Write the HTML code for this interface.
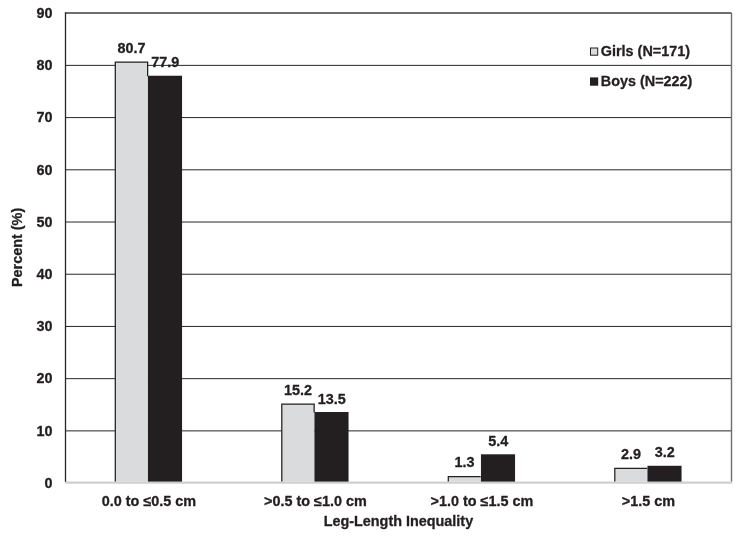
<!DOCTYPE html>
<html><head><meta charset="utf-8"><title>Leg-Length Inequality</title>
<style>
html,body{margin:0;padding:0;background:#fff;}
svg{display:block;will-change:transform;opacity:0.999;}
text{font-family:"Liberation Sans",sans-serif;font-weight:bold;font-size:14.4px;fill:#231f20;stroke:#231f20;stroke-width:0.3px;stroke-linejoin:round;}
</style></head><body>
<svg width="742" height="536" viewBox="0 0 742 536">
<rect width="742" height="536" fill="#fff"/>
<line x1="65.5" y1="430.88" x2="731.5" y2="430.88" stroke="#2a2627" stroke-width="1.0"/>
<line x1="65.5" y1="378.67" x2="731.5" y2="378.67" stroke="#2a2627" stroke-width="1.0"/>
<line x1="65.5" y1="326.45" x2="731.5" y2="326.45" stroke="#2a2627" stroke-width="1.0"/>
<line x1="65.5" y1="274.24" x2="731.5" y2="274.24" stroke="#2a2627" stroke-width="1.0"/>
<line x1="65.5" y1="222.02" x2="731.5" y2="222.02" stroke="#2a2627" stroke-width="1.0"/>
<line x1="65.5" y1="169.81" x2="731.5" y2="169.81" stroke="#2a2627" stroke-width="1.0"/>
<line x1="65.5" y1="117.59" x2="731.5" y2="117.59" stroke="#2a2627" stroke-width="1.0"/>
<line x1="65.5" y1="65.38" x2="731.5" y2="65.38" stroke="#2a2627" stroke-width="1.0"/>
<line x1="65.5" y1="13.06" x2="731.5" y2="13.06" stroke="#403c3d" stroke-width="1.4"/>
<line x1="731.5" y1="13.06" x2="731.5" y2="481.7" stroke="#6c6c6c" stroke-width="1.4"/>
<line x1="64.9" y1="482.7" x2="732.2" y2="482.7" stroke="#cfcfcf" stroke-width="2.2"/>
<line x1="65.5" y1="12.360000000000001" x2="65.5" y2="481.7" stroke="#2a2627" stroke-width="1.3"/>
<rect x="115.30" y="62.02" width="32.65" height="419.58" fill="#dadbdc"/>
<polyline points="115.30,481.60 115.30,62.02 147.65,62.02 147.65,76.24" fill="none" stroke="#231f20" stroke-width="1.25"/>
<rect x="147.95" y="75.74" width="34.10" height="405.86" fill="#231f20"/>
<text x="131.43" y="52.82" text-anchor="middle">80.7</text>
<text x="165.20" y="67.44" text-anchor="middle">77.9</text>
<text x="148.95" y="505.5" text-anchor="middle">0.0 to ≤0.5 cm</text>
<rect x="281.80" y="404.03" width="32.65" height="77.57" fill="#dadbdc"/>
<polyline points="281.80,481.60 281.80,404.03 314.15,404.03 314.15,412.51" fill="none" stroke="#231f20" stroke-width="1.25"/>
<rect x="314.45" y="412.01" width="34.10" height="69.59" fill="#231f20"/>
<text x="297.93" y="394.83" text-anchor="middle">15.2</text>
<text x="331.70" y="403.71" text-anchor="middle">13.5</text>
<text x="315.45" y="505.5" text-anchor="middle">&gt;0.5 to ≤1.0 cm</text>
<rect x="448.30" y="476.61" width="32.65" height="4.99" fill="#dadbdc"/>
<polyline points="448.30,481.60 448.30,476.61 480.65,476.61 480.65,476.61" fill="none" stroke="#231f20" stroke-width="1.25"/>
<rect x="480.95" y="454.30" width="34.10" height="27.30" fill="#231f20"/>
<text x="464.43" y="467.41" text-anchor="middle">1.3</text>
<text x="498.20" y="446.00" text-anchor="middle">5.4</text>
<text x="481.95" y="505.5" text-anchor="middle">&gt;1.0 to ≤1.5 cm</text>
<rect x="614.80" y="468.26" width="32.65" height="13.34" fill="#dadbdc"/>
<polyline points="614.80,481.60 614.80,468.26 647.15,468.26 647.15,468.26" fill="none" stroke="#231f20" stroke-width="1.25"/>
<rect x="647.45" y="465.79" width="34.10" height="15.81" fill="#231f20"/>
<text x="630.92" y="459.06" text-anchor="middle">2.9</text>
<text x="664.70" y="457.49" text-anchor="middle">3.2</text>
<text x="648.45" y="505.5" text-anchor="middle">&gt;1.5 cm</text>
<text x="52.6" y="487.90" text-anchor="end">0</text>
<text x="52.6" y="435.68" text-anchor="end">10</text>
<text x="52.6" y="383.47" text-anchor="end">20</text>
<text x="52.6" y="331.25" text-anchor="end">30</text>
<text x="52.6" y="279.04" text-anchor="end">40</text>
<text x="52.6" y="226.82" text-anchor="end">50</text>
<text x="52.6" y="174.61" text-anchor="end">60</text>
<text x="52.6" y="122.39" text-anchor="end">70</text>
<text x="52.6" y="70.18" text-anchor="end">80</text>
<text x="52.6" y="17.96" text-anchor="end">90</text>
<text x="398.4" y="526" text-anchor="middle">Leg-Length Inequality</text>
<text transform="translate(21.9 247.4) rotate(-90)" text-anchor="middle">Percent (%)</text>
<rect x="590.5" y="48" width="7.2" height="7.2" fill="#dadbdc" stroke="#231f20" stroke-width="1"/>
<text x="600.8" y="55.8">Girls (N=171)</text>
<rect x="590" y="77.4" width="8.2" height="8.3" fill="#231f20"/>
<text x="600.8" y="86.0">Boys (N=222)</text>
</svg></body></html>
